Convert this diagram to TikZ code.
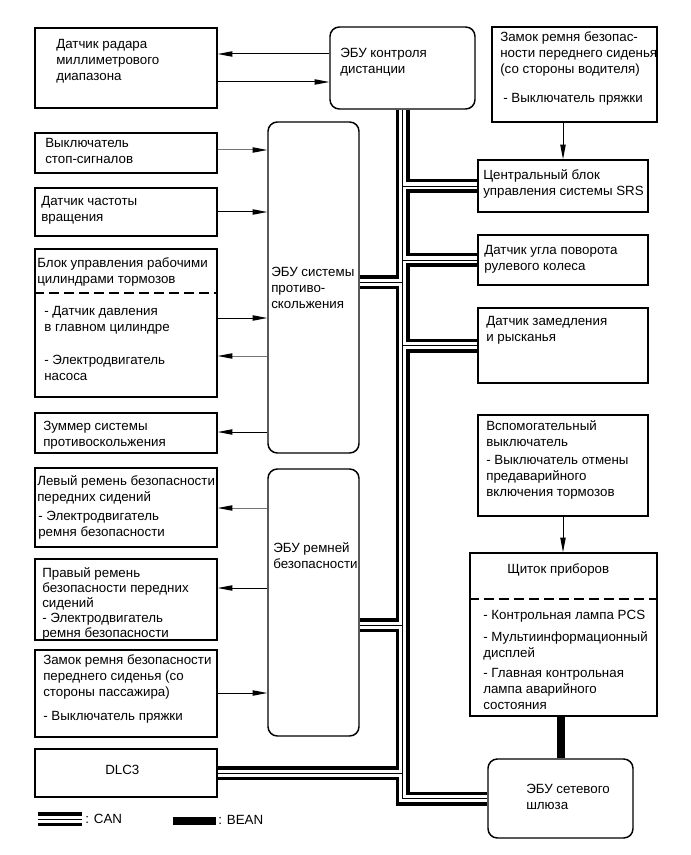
\documentclass[tikz,border=0pt]{standalone}
\usepackage{fontspec}
\setmainfont{Liberation Sans}
\usetikzlibrary{arrows.meta,backgrounds}
\newcommand\diagfont{\fontsize{10}{12}\selectfont}
\newcommand\canroutes[1]{%
  \draw[#1] (dist.south) |- (gw.west);
  \draw[#1] (dist.south |- srs.west) -- (srs.west);
  \draw[#1] (dist.south |- steer.west) -- (steer.west);
  \draw[#1] (dist.south |- decel.west) -- (decel.west);
  \draw[#1] (absJ) -- (dist.south |- absJ);
  \draw[#1] (beltJ) -- (dist.south |- beltJ);
  \draw[#1] (dlc.east) -- (dist.south |- dlc.east);
  \draw[#1] (canA) -- (canB);
}
\tikzset{
  box/.style={draw, line width=1.1pt, fill=white, inner sep=0pt},
  ebu/.style={box, rounded corners=7pt},
  sz/.style 2 args={minimum width=#1*0.75pt, minimum height=#2*0.75pt},
  txt/.style={anchor=north west, inner sep=0pt, align=left, font=\diagfont, execute at begin node=\strut, yshift=-2pt},
  arr/.style={line width=0.75pt, -{Triangle[length=11pt,width=4pt]}},
  grayarr/.style={line width=0.75pt, draw=black!55, -{Triangle[length=11pt,width=4pt,color=black]}},
  dashsep/.style={line width=1.1pt, dash pattern=on 7.5pt off 3.75pt},
  can1/.style={line width=10.5pt, draw=black},
  can2/.style={line width=5.25pt, draw=white},
  can3/.style={line width=0.6pt, draw=black},
  bean/.style={line width=6pt, draw=black}
}
\begin{document}
\begin{tikzpicture}[x=0.75pt,y=-0.75pt]
\useasboundingbox (0,0) rectangle (690,855);

% ---- boxes ----
\node[box, sz={182}{80}] (radar) at (126,68) {};
\node[ebu, sz={145}{82}] (dist) at (402.5,68) {};
\node[box, sz={165}{95}] (drv) at (574.5,74.5) {};
\node[box, sz={170}{52}] (srs) at (563,186) {};
\node[box, sz={170}{50}] (steer) at (563,260) {};
\node[box, sz={170}{75}] (decel) at (563,345.5) {};
\node[box, sz={170}{101}] (aux) at (563,465.5) {};
\node[box, sz={187}{163}] (clu) at (563.5,634.5) {};
\node[ebu, sz={145}{79}] (gw) at (560.5,798.5) {};
\node[box, sz={182}{40}] (stop) at (126,153) {};
\node[box, sz={182}{48}] (speed) at (126,212) {};
\node[box, sz={182}{148}] (brake) at (126,323) {};
\node[box, sz={182}{40}] (buzz) at (126,433) {};
\node[box, sz={182}{79}] (lbelt) at (126,507.5) {};
\node[box, sz={182}{81}] (rbelt) at (126,599.5) {};
\node[box, sz={182}{87}] (pbuck) at (126,693.5) {};
\node[box, sz={182}{48}] (dlc) at (126,773) {};
\node[ebu, sz={91}{331}] (abs) at (313.5,287.5) {};
\node[ebu, sz={91}{267}] (belt) at (313.5,602.5) {};

% ---- bus junction points ----
\coordinate (absJ) at ([yshift=4.1pt]abs.east);
\coordinate (beltJ) at ([yshift=-16.9pt]belt.east);
\coordinate (canA) at (38,819);
\coordinate (canB) at (82,819);
\coordinate (beanA) at (173,821);
\coordinate (beanB) at (216,821);

\begin{scope}[on background layer]
  \canroutes{can1}
  \canroutes{can2}
  \canroutes{can3}
\end{scope}
\draw[bean] (gw.north |- clu.south) -- (gw.north);
\draw[bean] (beanA) -- (beanB);

% ---- dashed separators ----
\draw[dashsep] (brake.west |- 0,293) -- (brake.east |- 0,293);
\draw[dashsep] (clu.west |- 0,599) -- (clu.east |- 0,599);

% ---- arrows ----
\draw[arr] (dist.west |- 0,54) -- (radar.east |- 0,54);
\draw[arr] (radar.east |- 0,82) -- (dist.west |- 0,82);
\draw[grayarr] (stop.east |- 0,150) -- (abs.west |- 0,150);
\draw[arr] (speed.east |- 0,212) -- (abs.west |- 0,212);
\draw[arr] (brake.east |- 0,318) -- (abs.west |- 0,318);
\draw[grayarr] (abs.west |- 0,356) -- (brake.east |- 0,356);
\draw[arr] (abs.west |- 0,432) -- (buzz.east |- 0,432);
\draw[grayarr] (belt.west |- 0,508) -- (lbelt.east |- 0,508);
\draw[arr] (belt.west |- 0,588) -- (rbelt.east |- 0,588);
\draw[arr] (pbuck.east |- 0,693) -- (belt.west |- 0,693);
\draw[arr] (srs.north |- drv.south) -- (srs.north);
\draw[arr] (aux.south) -- (aux.south |- clu.north);

% ---- texts ----
\node[txt] (radar-t) at (56,36) {Датчик радара\\миллиметрового\\диапазона};
\node[txt] (dist-t) at (340,45) {ЭБУ контроля\\дистанции};
\node[txt] (drv-t1) at (500,29) {Замок ремня безопас-\\ности переднего сиденья\\(со стороны водителя)};
\node[txt] (drv-t2) at (503,88) {- Выключатель пряжки};
\node[txt] (srs-t) at (483,167) {Центральный блок\\управления системы SRS};
\node[txt] (steer-t) at (484,242) {Датчик угла поворота\\рулевого колеса};
\node[txt] (decel-t) at (486,313) {Датчик замедления\\и рысканья};
\node[txt] (aux-t) at (486,418) {Вспомогательный\\выключатель\\[1.5pt]- Выключатель отмены\\предаварийного\\включения тормозов};
\node[txt] (clu-t1) at (507,559) {Щиток приборов};
\node[txt] (clu-t2) at (483,607) {- Контрольная лампа PCS\\[4.5pt]- Мультиинформационный\\дисплей\\[3pt]- Главная контрольная\\лампа аварийного\\состояния};
\node[txt] (gw-t) at (526,781) {ЭБУ сетевого\\шлюза};
\node[txt] (stop-t) at (45,135) {Выключатель\\стоп-сигналов};
\node[txt] (speed-t) at (41,193) {Датчик частоты\\вращения};
\node[txt] (brake-t1) at (37,255) {Блок управления рабочими\\цилиндрами тормозов};
\node[txt] (brake-t2) at (44,303) {- Датчик давления\\в главном цилиндре};
\node[txt] (brake-t3) at (44,352) {- Электродвигатель\\насоса};
\node[txt] (buzz-t) at (43,418) {Зуммер системы\\противоскольжения};
\node[txt] (lbelt-t1) at (37,473) {Левый ремень безопасности\\передних сидений};
\node[txt] (lbelt-t2) at (38,508) {- Электродвигатель\\ремня безопасности};
\node[txt, font=\fontsize{10}{11.25}\selectfont] (rbelt-t) at (42,565) {Правый ремень\\безопасности передних\\сидений\\- Электродвигатель\\ремня безопасности};
\node[txt] (pbuck-t1) at (43,652) {Замок ремня безопасности\\переднего сиденья (со\\стороны пассажира)};
\node[txt] (pbuck-t2) at (43,706) {- Выключатель пряжки};
\node[txt] (dlc-t) at (105,760) {DLC3};
\node[txt] (abs-t) at (271,264) {ЭБУ системы\\противо-\\скольжения};
\node[txt] (belt-t) at (273,540) {ЭБУ ремней\\безопасности};
\node[txt] (can-t) at (85,809) {: CAN};
\node[txt] (bean-t) at (218,810) {: BEAN};
\end{tikzpicture}
\end{document}
